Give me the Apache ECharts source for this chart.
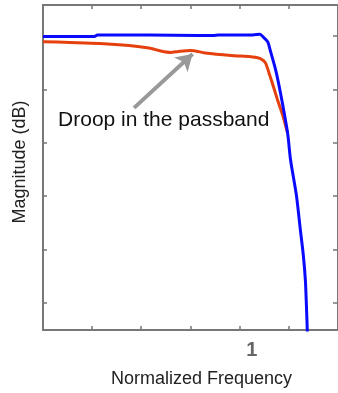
<!DOCTYPE html>
<html><head><meta charset="utf-8">
<script src="https://cdn.jsdelivr.net/npm/echarts@6/dist/echarts.min.js"></script>
<style>html,body{margin:0;padding:0;background:#fff}#c{width:338px;height:393px}</style>
</head><body><div id="c"></div>
<script>
// Normalized frequency vs magnitude (dB)
const idealX = [0,0.246,0.261,0.507,0.744,0.815,0.839,1.005,1.038,1.057,1.076,1.090,1.114,1.137,1.171,1.185,1.213,1.232,1.246,1.256,1.261,1.266];
const idealY = [-0.1,-0.1,0.2,0.2,0.1,0.1,0.2,0.2,0.3,-0.3,-1.1,-3.0,-6.4,-10.7,-18.2,-23.2,-29.8,-36.3,-41.0,-45.7,-50.4,-56];
const droopX = [0,0.128,0.270,0.412,0.507,0.564,0.611,0.649,0.706,0.777,0.900,1.005,1.038,1.057,1.068,1.085,1.104,1.123,1.147,1.171];
const droopY = [-1.07,-1.22,-1.40,-1.78,-2.25,-2.81,-3.09,-2.90,-2.72,-3.18,-3.65,-3.93,-4.21,-4.68,-5.3,-7.3,-9.6,-12.0,-14.8,-18.2];
const xTicks = [0.2351,0.4701,0.7052,0.9403,1.1754];
const xLabels = [1];
const yTicks = [0,-10,-20,-30,-40,-50];
const annoText = 'Droop in the passband';
const annoPos = [0.578,-15.73];
const arrowFrom = [0.436,-13.48];
const arrowTo = [0.716,-3.37];

const xMin = 0, xMax = 1.4123, yMin = -55.1, yMax = 5.8;
const axisCol = '#777';
const font = 'Liberation Sans, Arial, sans-serif';
const zip = (a,b) => a.map((v,i)=>[v,b[i]]);

const chart = echarts.init(document.getElementById('c'), null, {renderer:'canvas'});
chart.setOption({
  animation:false,
  grid:{left:43, top:5, right:-3, bottom:63},
  xAxis:[{
    type:'value', min:xMin, max:xMax, position:'bottom',
    name:'Normalized Frequency', nameLocation:'middle', nameGap:40,
    nameTextStyle:{fontFamily:font, fontSize:18, color:'#222', padding:[0,0,0,22]},
    axisLine:{show:true, onZero:false, lineStyle:{color:axisCol, width:2}},
    axisTick:{show:true, inside:true, length:4, customValues:xTicks, lineStyle:{color:axisCol, width:1.5}},
    axisLabel:{customValues:xLabels, margin:10, fontFamily:font, fontSize:20, fontWeight:'bold', color:'#666', formatter: v => String(v)},
    splitLine:{show:false}
  },{
    type:'value', min:xMin, max:xMax, position:'top',
    axisLine:{show:true, onZero:false, lineStyle:{color:axisCol, width:2}},
    axisTick:{show:true, inside:true, length:4, customValues:xTicks, lineStyle:{color:axisCol, width:1.5}},
    axisLabel:{show:false}, splitLine:{show:false}
  }],
  yAxis:[{
    type:'value', min:yMin, max:yMax, position:'left',
    name:'Magnitude (dB)', nameLocation:'middle', nameGap:14, nameRotate:90,
    nameTextStyle:{fontFamily:font, fontSize:18, color:'#222', padding:[0,0,0,11]},
    axisLine:{show:true, onZero:false, lineStyle:{color:axisCol, width:2}},
    axisTick:{show:true, inside:true, length:4, customValues:yTicks, lineStyle:{color:axisCol, width:1.5}},
    axisLabel:{show:false}, splitLine:{show:false}
  },{
    type:'value', min:yMin, max:yMax, position:'right',
    axisLine:{show:true, onZero:false, lineStyle:{color:axisCol, width:2}},
    axisTick:{show:true, inside:true, length:5, customValues:yTicks, lineStyle:{color:axisCol, width:1.5}},
    axisLabel:{show:false}, splitLine:{show:false}
  }],
  series:[{
    type:'line', data:zip(droopX, droopY), showSymbol:false, smooth:0.25,
    lineStyle:{color:'#e5400e', width:3}, z:2,
    markLine:{
      silent:true, symbol:['none','arrow'], symbolSize:[15,16],
      lineStyle:{color:'#999', width:4, type:'solid'}, label:{show:false},
      data:[[{coord:arrowFrom},{coord:arrowTo}]]
    },
    markPoint:{
      silent:true, symbol:'circle', symbolSize:0,
      label:{show:true, formatter:annoText, fontFamily:font, fontSize:21, color:'#111', position:'inside'},
      data:[{coord:annoPos}]
    }
  },{
    type:'line', data:zip(idealX, idealY), showSymbol:false, smooth:0.25,
    lineStyle:{color:'#0a0aff', width:3}, z:3
  }]
});
</script></body></html>
